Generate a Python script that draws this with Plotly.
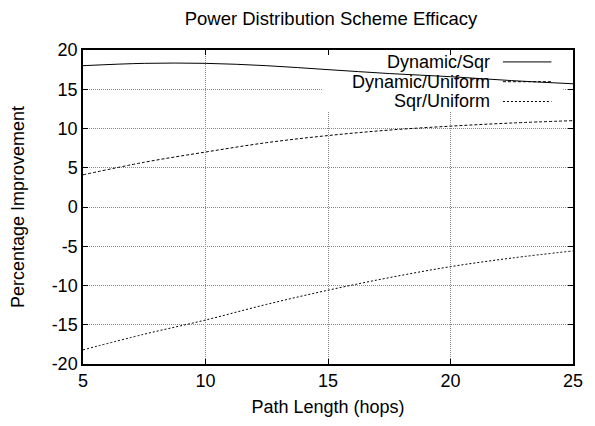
import plotly.graph_objects as go

path_length = [5, 7.5, 10, 12.5, 15, 17.5, 20, 22.5, 25]
dynamic_sqr = [18.0, 18.3, 18.3, 18.0, 17.5, 17.0, 16.6, 16.1, 15.7]
dynamic_uniform = [4.1, 5.7, 7.0, 8.2, 9.1, 9.8, 10.3, 10.7, 11.0]
sqr_uniform = [-18.2, -16.2, -14.4, -12.4, -10.6, -9.0, -7.6, -6.5, -5.6]

series_names = ["Dynamic/Sqr", "Dynamic/Uniform", "Sqr/Uniform"]
series_values = [dynamic_sqr, dynamic_uniform, sqr_uniform]
series_dash = ["solid", "3px,2px", "2px,2px"]

x_ticks = [5, 10, 15, 20, 25]
y_ticks = [20, 15, 10, 5, 0, -5, -10, -15, -20]

FONT = "Liberation Sans, Arial, Helvetica, sans-serif"
FS = 18

fig = go.Figure()
for name, vals, dash in zip(series_names, series_values, series_dash):
    fig.add_trace(go.Scatter(
        x=path_length, y=vals, mode="lines", name=name,
        line=dict(color="black", width=1, dash=dash, shape="spline"),
        showlegend=False,
    ))

# white key area hiding gridlines (between grid and traces)
fig.add_shape(type="rect", xref="x", yref="y", x0=14.8, x1=24.6, y0=12.2, y1=20,
              fillcolor="white", line=dict(width=0), layer="between")

# legend emulation: text right aligned, sample line to the right
leg_y = [0.962, 0.899, 0.836]
for name, dash, yy in zip(series_names, series_dash, leg_y):
    fig.add_annotation(x=0.835, y=yy, xref="paper", yref="paper", text=name,
                       showarrow=False, xanchor="right", yanchor="middle",
                       font=dict(family=FONT, size=FS, color="black"))
    fig.add_shape(type="line", xref="paper", yref="paper", x0=0.857, x1=0.956,
                  y0=yy, y1=yy, line=dict(color="black", width=1, dash=dash))

axis_common = dict(
    showline=True, linecolor="black", linewidth=1.5, mirror="ticks",
    ticks="inside", ticklen=5, tickcolor="black", tickwidth=1,
    showgrid=True, gridcolor="#888888", gridwidth=1, griddash="1px,1px",
    zeroline=False, tickfont=dict(family=FONT, size=FS, color="black"),
)

fig.update_xaxes(range=[5, 25], tickvals=x_ticks, ticktext=[str(v) for v in x_ticks],
                 title=dict(text="Path Length (hops)", font=dict(family=FONT, size=FS, color="black"), standoff=10),
                 **axis_common)
fig.update_yaxes(range=[-20, 20], tickvals=y_ticks, ticktext=[str(v) for v in y_ticks],
                 title=dict(text="Percentage Improvement", font=dict(family=FONT, size=FS, color="black"), standoff=22),
                 **axis_common)

fig.update_layout(
    width=595, height=426,
    margin=dict(l=83, r=15, t=50, b=58),
    paper_bgcolor="white", plot_bgcolor="white",
    title=dict(text="Power Distribution Scheme Efficacy", x=331 / 595,
               xanchor="center", y=1 - 19 / 426, yanchor="middle",
               font=dict(family=FONT, size=18.5, color="black")),
    font=dict(family=FONT, size=FS, color="black"),
)

fig.write_html("out.html")
